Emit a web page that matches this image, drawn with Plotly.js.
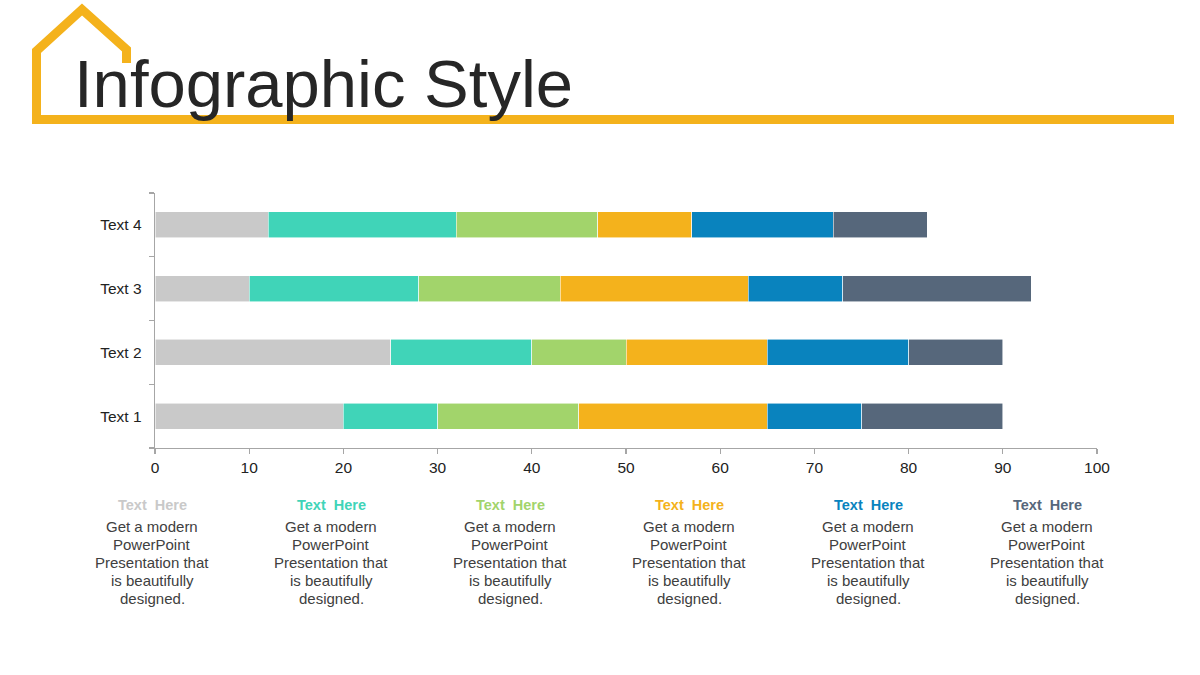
<!DOCTYPE html>
<html>
<head>
<meta charset="utf-8">
<script src="https://cdn.plot.ly/plotly-3.0.1.min.js"></script>
<style>
  html, body { margin: 0; padding: 0; background: #ffffff; }
  #chart { width: 1200px; height: 675px; }
</style>
</head>
<body>
<div id="chart"></div>
<script>
// ---- Data ----
const categories = ["Text 1", "Text 2", "Text 3", "Text 4"];
const series1 = [20, 25, 10, 12];
const series2 = [10, 15, 18, 20];
const series3 = [15, 10, 15, 15];
const series4 = [20, 15, 20, 10];
const series5 = [10, 15, 10, 15];
const series6 = [15, 10, 20, 10];
const seriesNames = ["Text  Here", "Text  Here", "Text  Here", "Text  Here", "Text  Here", "Text  Here"];
const seriesColors = ["#C9C9C9", "#40D4B8", "#A2D46B", "#F4B21C", "#0983BE", "#56677B"];
const xTickValues = [0, 10, 20, 30, 40, 50, 60, 70, 80, 90, 100];
const titleText = "Infographic Style";
const bodyLines = ["Get a modern", "PowerPoint", "Presentation that", "is beautifully", "designed."];

// ---- Layout geometry (pixels) ----
const W = 1200, H = 675;
const L = 155, R = 1097, T = 193, B = 448;
const px = x => (x - L) / (R - L);
const py = y => (B - y) / (B - T);

const allSeries = [series1, series2, series3, series4, series5, series6];
const traces = allSeries.map((vals, i) => ({
  type: "bar",
  orientation: "h",
  y: categories,
  x: vals,
  name: seriesNames[i],
  marker: { color: seriesColors[i], line: { color: "rgba(255,255,255,0.7)", width: 0.8 } },
  hoverinfo: "x+y",
  showlegend: false
}));

// House outline + underline
const housePts = [[126.5, 63], [126.5, 49.5], [82, 9.5], [36.5, 51], [36.5, 119.5], [1174, 119.5]];
const housePath = housePts.map((p, i) => (i === 0 ? "M" : "L") + px(p[0]).toFixed(5) + "," + py(p[1]).toFixed(5)).join(" ");

const shapes = [{
  type: "path", xref: "paper", yref: "paper", path: housePath,
  line: { color: "#F4B21C", width: 9 }, layer: "above"
}];

const annotations = [{
  xref: "paper", yref: "paper", x: px(72), y: py(83),
  xanchor: "left", yanchor: "middle", showarrow: false,
  text: titleText,
  font: { family: "Liberation Sans, Arial, sans-serif", size: 67, color: "#262626" }
}];

const colCenters = [152, 331, 510, 689, 868, 1047];
colCenters.forEach((cx, i) => {
  annotations.push({
    xref: "paper", yref: "paper", x: px(cx), y: py(505),
    xanchor: "center", yanchor: "middle", showarrow: false,
    text: "<b>" + seriesNames[i].replace(/  /g, "&nbsp; ") + "</b>",
    font: { family: "Liberation Sans, Arial, sans-serif", size: 14.5, color: seriesColors[i] }
  });
  bodyLines.forEach((line, k) => {
    annotations.push({
      xref: "paper", yref: "paper", x: px(cx), y: py(526 + 18 * k),
      xanchor: "center", yanchor: "middle", showarrow: false,
      text: line,
      font: { family: "Liberation Sans, Arial, sans-serif", size: 15, color: "#404040" }
    });
  });
});

const layout = {
  width: W, height: H,
  margin: { l: L, r: W - R, t: T, b: H - B, pad: 0 },
  paper_bgcolor: "#ffffff", plot_bgcolor: "#ffffff",
  barmode: "stack",
  bargap: 0.59,
  font: { family: "Liberation Sans, Arial, sans-serif", size: 15, color: "#222222" },
  xaxis: {
    range: [0, 100], tickvals: xTickValues, ticktext: xTickValues.map(String),
    showgrid: false, zeroline: false,
    showline: true, linecolor: "#A6A6A6", linewidth: 1.3,
    ticks: "outside", ticklen: 5, tickcolor: "#A6A6A6", tickwidth: 1.3,
    tickfont: { size: 15.5, color: "#222222" }, fixedrange: true
  },
  yaxis: {
    type: "category", categoryorder: "array", categoryarray: categories,
    range: [-0.5, 3.5],
    showgrid: false, zeroline: false,
    showline: true, linecolor: "#A6A6A6", linewidth: 1.3,
    ticks: "outside", ticklen: 5, tickcolor: "#A6A6A6", tickwidth: 1.3,
    tickson: "boundaries", ticklabelstandoff: 9,
    tickfont: { size: 15.5, color: "#222222" }, fixedrange: true
  },
  shapes: shapes,
  annotations: annotations,
  showlegend: false
};

Plotly.newPlot("chart", traces, layout, { displayModeBar: false, staticPlot: true });
</script>
</body>
</html>
